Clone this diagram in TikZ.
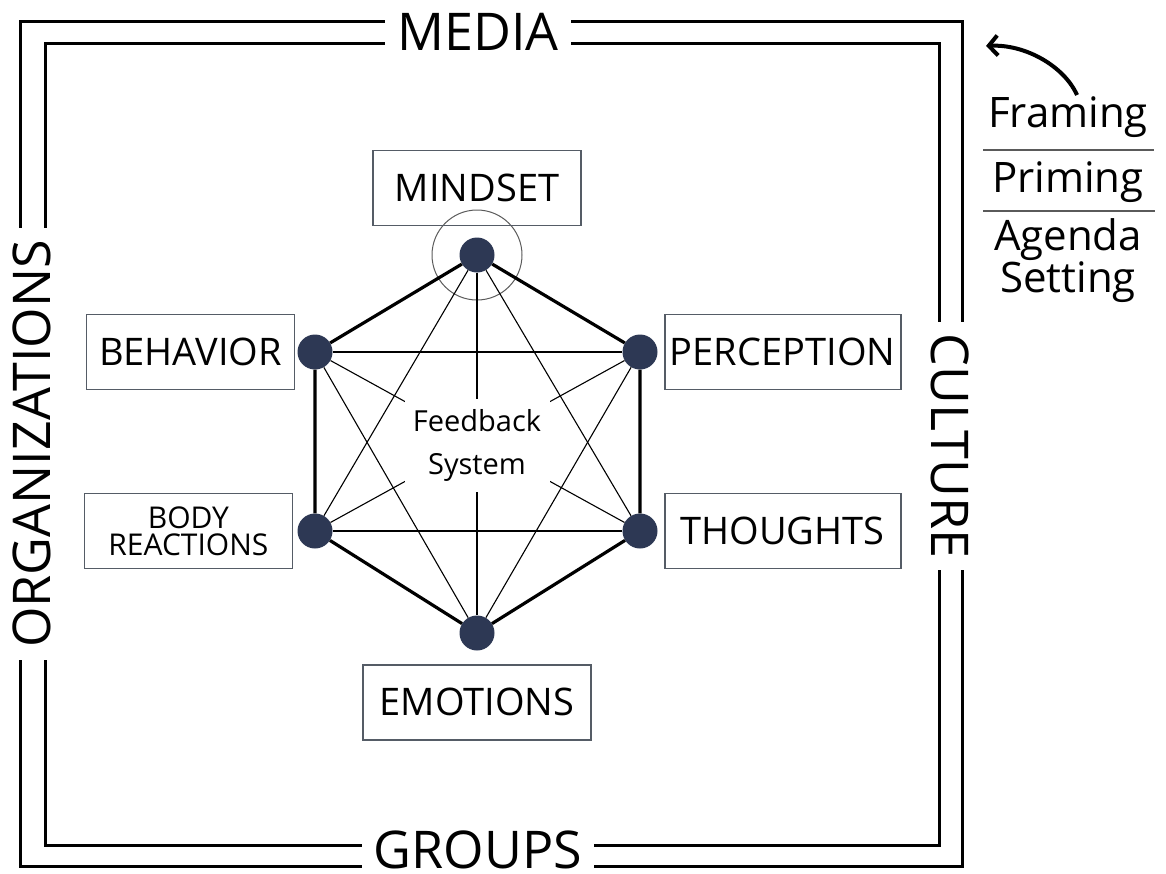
\documentclass[tikz,border=0pt]{standalone}
\usepackage{fontspec}
\setmainfont{Open Sans}
\usetikzlibrary{positioning,arrows.meta}

\definecolor{dotnavy}{RGB}{45,56,84}
\definecolor{boxgray}{RGB}{85,92,102}
\definecolor{ringgray}{RGB}{90,90,90}

\tikzset{
  vertex/.style={circle, fill=dotnavy, minimum size=35pt, inner sep=0pt},
  labelbox/.style={rectangle, draw=boxgray, line width=1.8pt, minimum width=208pt,
    minimum height=75pt, inner sep=0pt, font=\fontsize{38}{40}\selectfont},
  framelabel/.style={fill=white, inner xsep=12pt, inner ysep=4pt, font=\fontsize{52}{54}\selectfont},
  frameline/.style={line width=3pt},
  rim/.style={line width=3.2pt},
  chord/.style={line width=1.1pt},
  sidelabel/.style={inner sep=0pt, font=\fontsize{42}{40}\selectfont},
  sepline/.style={draw=ringgray, line width=1.5pt}
}

\begin{document}
\begin{tikzpicture}[x=1pt, y=-1pt]
  \useasboundingbox (0,0) rectangle (1166,873);

  % outer and inner frame
  \draw[frameline] (20,21) rectangle (962,866);
  \draw[frameline] (45,43) rectangle (939,845);
  \node[framelabel] (media) at (478,32) {MEDIA};
  \node[framelabel, inner ysep=1pt] (groups) at (478,850) {GROUPS};
  \node[framelabel, rotate=90] (orgs) at (32,444) {ORGANIZATIONS};
  \node[framelabel, rotate=-90] (culture) at (950,446) {CULTURE};

  % hexagon vertices
  \node[vertex] (mind) at (477,255) {};
  \node[vertex] (perc) at (640,352) {};
  \node[vertex] (thou) at (640,531) {};
  \node[vertex] (emo) at (477,633) {};
  \node[vertex] (body) at (315,531) {};
  \node[vertex] (beh) at (315,352) {};
  \draw[ringgray, line width=1pt] (mind) circle[radius=45pt];

  % boxes
  \node[labelbox, above=11pt of mind] (mindbox) {MINDSET};
  \node[labelbox, right=6pt of perc, minimum width=236pt] (percbox) {PERCEPTION};
  \node[labelbox, right=6pt of thou, minimum width=236pt] (thoubox) {THOUGHTS};
  \node[labelbox, below=13pt of emo, minimum width=228pt] (emobox) {EMOTIONS};
  \node[labelbox, left=4pt of body, align=center, font=\fontsize{30}{27}\selectfont] (bodybox) {BODY\\REACTIONS};
  \node[labelbox, left=2pt of beh] (behbox) {BEHAVIOR};

  % rim
  \draw[rim] (mind) -- (perc) -- (thou) -- (emo) -- (body) -- (beh) -- (mind);

  % chords
  \foreach \a/\b in {mind/thou, mind/emo, mind/body, perc/emo, perc/body, perc/beh,
                     thou/body, thou/beh, emo/beh}
    \draw[chord] (\a) -- (\b);

  \node[fill=white, minimum width=145pt, minimum height=93pt, align=center,
        font=\fontsize{29}{43}\selectfont] (feedback) at (477,445) {Feedback\\System};

  % effects on the side
  \node[sidelabel, anchor=base] (framing) at (1068,127) {Framing};
  \draw[sepline] (983,150) -- (1154,150);
  \node[sidelabel, anchor=base] (priming) at (1068,192) {Priming};
  \draw[sepline] (983,211) -- (1155,211);
  \node[sidelabel, anchor=north, align=center] (agenda) at (1068,218) {Agenda\\Setting};

  \coordinate (arrtail) at (1077,95);
  \coordinate (arrhead) at (986,46);
  \draw[line width=4pt, -{Straight Barb[length=9pt, width=20pt]}]
    (arrtail) .. controls (1064,66) and (1025,44) .. (arrhead);
\end{tikzpicture}
\end{document}
